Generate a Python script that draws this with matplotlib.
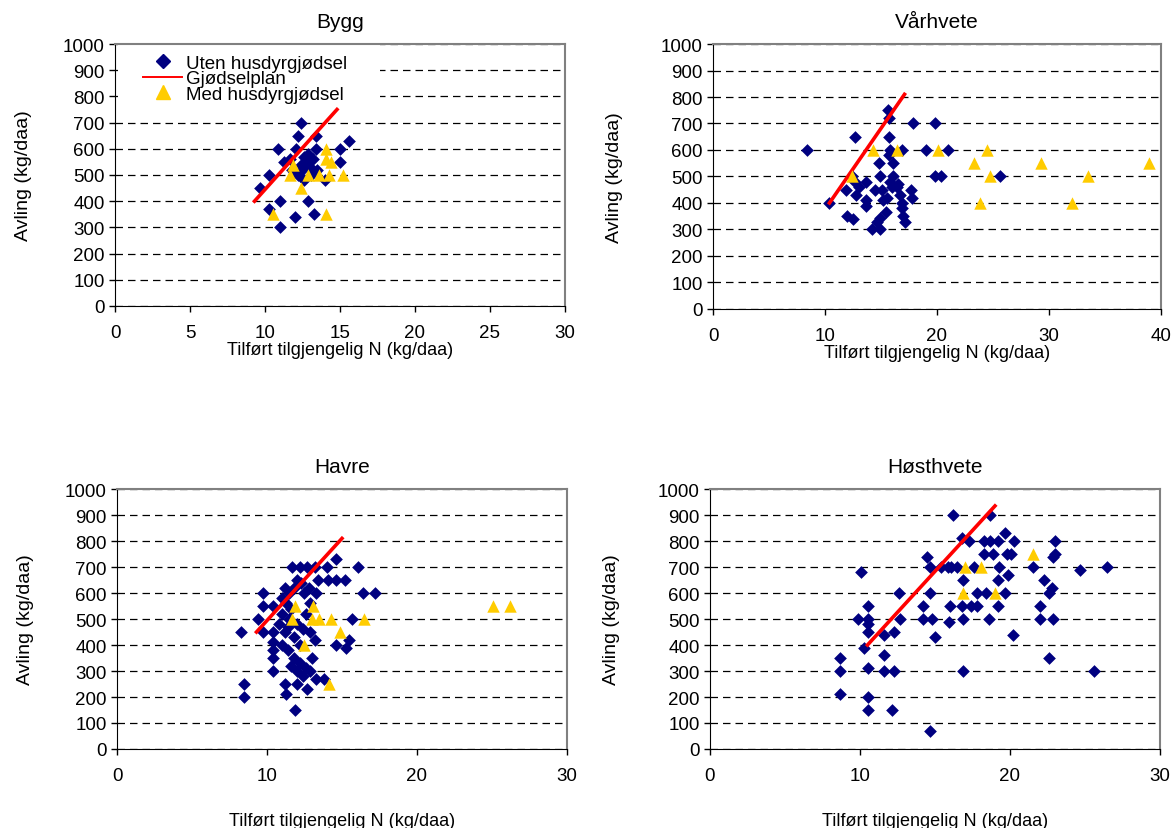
"""Avling mot tilført tilgjengelig N for fire kornarter."""

import matplotlib
matplotlib.use("Agg")
import matplotlib.pyplot as plt
from matplotlib.lines import Line2D
from matplotlib.patches import Rectangle

plt.rcParams["font.family"] = ["Liberation Sans", "DejaVu Sans"]

# Bygg
bygg_uten_x = [12.4, 12.2, 10.9, 12.1, 13.4, 15.0, 15.6, 11.3, 12.6, 15.0, 10.3, 9.7,
               11.0, 10.3, 12.9, 12.0, 13.3, 11.0, 14.0, 12.2, 12.5, 12.8, 13.0, 12.6,
               13.2, 12.9, 13.5, 11.8, 12.4, 13.1, 11.7, 13.4]
bygg_uten_y = [700, 650, 600, 600, 600, 600, 630, 550, 570, 550, 500, 450,
               400, 370, 400, 340, 350, 300, 480, 500, 520, 550, 530, 480,
               560, 580, 520, 520, 540, 500, 560, 650]
bygg_med_x = [14.1, 14.1, 14.4, 11.9, 11.7, 12.9, 13.6, 14.3, 15.2, 12.4, 10.55, 14.1]
bygg_med_y = [600, 560, 550, 540, 500, 500, 500, 500, 500, 450, 350, 350]
bygg_plan_x = [9.3, 14.8]
bygg_plan_y = [400, 750]

# Vårhvete
var_uten_x = [8.4, 10.4, 12.7, 15.65, 15.7, 15.7, 17.9, 19.8, 15.8, 16.85, 19.0, 21.0,
              14.8, 16.1, 19.8, 20.4, 12.4, 14.9, 16.1, 12.7, 13.7, 11.9, 12.8, 13.7,
              13.7, 14.5, 15.1, 15.8, 16.4, 16.7, 17.7, 17.8, 16.85, 16.85, 17.0, 17.1,
              15.2, 15.45, 14.9, 14.6, 12.5, 14.2, 14.9, 25.6, 12.0, 13.0, 15.5, 16.0,
              16.5, 15.7]
var_uten_y = [600, 400, 650, 750, 720, 650, 700, 700, 600, 600, 600, 600,
              550, 550, 500, 500, 500, 500, 500, 480, 480, 450, 430, 410,
              390, 450, 450, 480, 460, 430, 450, 420, 400, 380, 350, 330,
              410, 365, 345, 330, 340, 300, 300, 500, 350, 460, 420, 460,
              470, 580]
var_med_x = [12.4, 14.3, 16.4, 20.1, 24.5, 23.3, 24.7, 23.8, 29.3, 33.45, 32.05, 38.9]
var_med_y = [500, 600, 600, 600, 600, 550, 500, 400, 550, 500, 400, 550]
var_plan_x = [10.4, 17.1]
var_plan_y = [400, 810]

# Havre
havre_uten_x = [8.3, 8.5, 8.5, 11.9, 9.75, 9.75, 10.4, 9.4, 9.75, 10.4, 11.65, 12.2,
                12.7, 13.2, 14.0, 14.6, 16.1, 13.4, 14.1, 14.6, 15.2, 16.4, 17.2, 15.65,
                14.6, 15.3, 15.5, 10.4, 10.4, 10.4, 10.4, 11.2, 11.3, 13.2, 11.2, 11.5,
                11.8, 12.0, 12.3, 11.0, 11.3, 11.6, 12.5, 12.8, 11.0, 11.5, 12.0, 12.4,
                11.8, 11.2, 12.6, 12.9, 13.3, 11.0, 11.4, 11.8, 12.2, 12.6, 12.0, 12.4,
                12.9, 13.0, 13.3, 13.8, 11.6, 12.2, 12.9, 11.4, 10.8, 12.0, 12.7]
havre_uten_y = [450, 250, 200, 150, 600, 550, 550, 500, 450, 450, 700, 700,
                700, 700, 700, 730, 700, 650, 650, 650, 650, 600, 600, 500,
                400, 390, 420, 410, 380, 350, 300, 250, 210, 420, 620, 600,
                620, 650, 640, 580, 560, 540, 600, 620, 520, 500, 480, 460,
                430, 450, 520, 560, 600, 400, 380, 350, 330, 310, 300, 280,
                300, 350, 270, 270, 320, 400, 450, 470, 480, 250, 230]
havre_med_x = [11.9, 13.05, 11.7, 13.0, 13.5, 14.3, 16.5, 14.9, 12.5, 14.15, 25.1, 26.2]
havre_med_y = [550, 550, 500, 500, 500, 500, 500, 450, 400, 250, 550, 550]
havre_plan_x = [9.3, 15.0]
havre_plan_y = [450, 810]

# Høsthvete
host_uten_x = [16.2, 10.1, 8.7, 8.7, 8.7, 10.55, 9.9, 10.55, 10.55, 10.55, 10.3, 10.55,
               10.55, 10.55, 11.6, 12.3, 11.6, 11.6, 12.3, 12.15, 12.6, 12.7, 14.2, 14.2,
               14.8, 14.7, 14.5, 14.7, 15.4, 16.1, 15.0, 14.7, 16.8, 17.3, 16.85, 16.0,
               16.8, 17.4, 15.95, 16.85, 16.85, 17.8, 18.7, 19.7, 18.3, 18.7, 19.2, 20.3,
               23.0, 18.3, 18.9, 19.8, 20.1, 23.0, 22.9, 21.55, 19.3, 24.7, 26.5, 19.2,
               19.9, 22.3, 18.4, 19.7, 22.6, 22.8, 17.8, 19.2, 22.0, 18.6, 22.0, 22.9,
               20.2, 22.6, 25.6, 16.5, 17.6, 15.9]
host_uten_y = [900, 680, 350, 300, 210, 550, 500, 500, 480, 450, 390, 310,
               200, 150, 440, 450, 360, 300, 300, 150, 600, 500, 550, 500,
               500, 600, 740, 700, 700, 700, 430, 70, 810, 800, 650, 550,
               550, 550, 490, 500, 300, 600, 900, 830, 800, 800, 800, 800,
               800, 750, 750, 750, 750, 750, 740, 700, 700, 690, 700, 650,
               670, 650, 600, 600, 600, 620, 550, 550, 550, 500, 500, 500,
               440, 350, 300, 700, 700, 700]
host_med_x = [17.0, 18.1, 21.55, 16.9, 19.0]
host_med_y = [700, 700, 750, 600, 600]
host_plan_x = [10.5, 19.0]
host_plan_y = [400, 935]

NAVY = "#000080"
GOLD = "#FFCC00"


def draw_panel(ax, title, uten, med, plan, xmax, xstep, xlabelpad, ylabelpad):
    ax.grid(axis="y", color="black", linestyle=(0, (6, 4)), linewidth=0.9)
    ax.set_axisbelow(True)
    ax.scatter(uten[0], uten[1], marker="D", s=42, color=NAVY, linewidths=0, zorder=3)
    ax.plot(plan[0], plan[1], color="red", linewidth=2.6, zorder=4)
    ax.scatter(med[0], med[1], marker="^", s=80, color=GOLD, linewidths=0, zorder=5)
    ax.set_xlim(0, xmax)
    ax.set_ylim(0, 1000)
    ax.set_xticks(range(0, xmax + 1, xstep))
    ax.set_yticks(range(0, 1001, 100))
    ax.set_title(title, fontsize=15, pad=12)
    ax.set_ylabel("Avling (kg/daa)", fontsize=14, labelpad=ylabelpad)
    ax.set_xlabel("Tilført tilgjengelig N (kg/daa)", fontsize=13, labelpad=xlabelpad)
    ax.tick_params(labelsize=13.5, direction="out", length=4, width=1)
    ax.tick_params(axis="x", pad=9)
    for side in ("top", "right"):
        ax.spines[side].set_color("#808080")
        ax.spines[side].set_linewidth(1.5)
    for side in ("left", "bottom"):
        ax.spines[side].set_color("black")


fig = plt.figure(figsize=(11.76, 8.29), dpi=100)
ax1 = fig.add_axes([0.0978, 0.6297, 0.3826, 0.3160])
ax2 = fig.add_axes([0.6063, 0.6261, 0.3809, 0.3196])
ax3 = fig.add_axes([0.0995, 0.0953, 0.3826, 0.3136])
ax4 = fig.add_axes([0.6037, 0.0953, 0.3827, 0.3136])

draw_panel(ax1, "Bygg", (bygg_uten_x, bygg_uten_y), (bygg_med_x, bygg_med_y),
           (bygg_plan_x, bygg_plan_y), 30, 5, 0, 22)
draw_panel(ax2, "Vårhvete", (var_uten_x, var_uten_y), (var_med_x, var_med_y),
           (var_plan_x, var_plan_y), 40, 10, 0, 27)
draw_panel(ax3, "Havre", (havre_uten_x, havre_uten_y), (havre_med_x, havre_med_y),
           (havre_plan_x, havre_plan_y), 30, 10, 20, 22)
draw_panel(ax4, "Høsthvete", (host_uten_x, host_uten_y), (host_med_x, host_med_y),
           (host_plan_x, host_plan_y), 30, 10, 20, 27)

# white legend area like the spreadsheet legend box
ax1.add_patch(Rectangle((0.007, 0.775), 0.583, 0.222, transform=ax1.transAxes,
                        facecolor="white", edgecolor="none", zorder=2.5))

handles = [
    Line2D([], [], marker="D", linestyle="none", color=NAVY, markersize=7),
    Line2D([], [], color="red", linewidth=1.4),
    Line2D([], [], marker="^", linestyle="none", color=GOLD, markersize=10),
]
labels = ["Uten husdyrgjødsel", "Gjødselplan", "Med husdyrgjødsel"]
leg = ax1.legend(handles, labels, loc="upper left", bbox_to_anchor=(0.036, 1.005),
                 fontsize=13.5, labelspacing=-0.1, handlelength=2.05, handletextpad=0.2,
                 borderpad=0.15, frameon=False)
leg.set_zorder(6)

fig.savefig("out.png", dpi=100)
